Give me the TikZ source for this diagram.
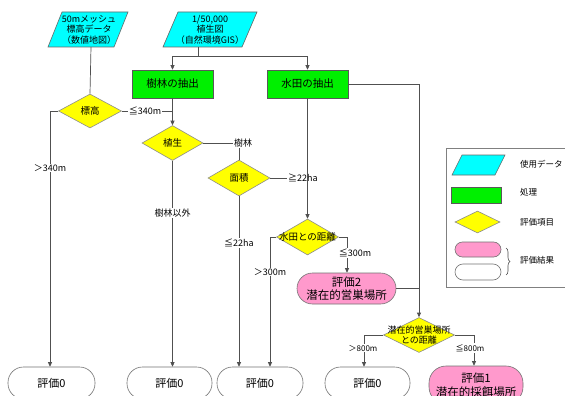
\documentclass[tikz,border=0pt]{standalone}
\usepackage{fontspec}
\setmainfont{Noto Sans CJK JP}
\usetikzlibrary{shapes.geometric,arrows.meta,calc,decorations.pathreplacing}
\definecolor{lineg}{RGB}{80,80,80}
\definecolor{datacyan}{RGB}{0,255,255}
\definecolor{procgreen}{RGB}{0,240,0}
\definecolor{diayellow}{RGB}{255,255,0}
\definecolor{respink}{RGB}{255,153,204}
\tikzset{
  conn/.style={draw=lineg, line width=0.7pt},
  arr/.style={conn, -{Triangle[length=4.5pt,width=4pt]}},
  datashape/.style={draw=black!60, fill=datacyan, line width=0.6pt},
  datatext/.style={align=center, font=\fontsize{9}{10.5}\selectfont, inner sep=0},
  proc/.style={draw=black!65, fill=procgreen, line width=0.6pt, minimum width=81, minimum height=28, inner sep=0, font=\fontsize{10.5}{12}\selectfont},
  dia/.style={diamond, draw=black!45, fill=diayellow, line width=0.6pt, inner sep=0},
  diatext/.style={align=center, font=\fontsize{9.5}{10.5}\selectfont, inner sep=0},
  res/.style={draw=black!55, line width=0.6pt, rounded corners=15.5pt, minimum height=32, inner sep=0, align=center, font=\fontsize{11}{13.5}\selectfont},
  lab/.style={fill=white, inner sep=1pt, font=\fontsize{9}{10}\selectfont},
  legtext/.style={anchor=west, inner sep=0, font=\fontsize{8.5}{10}\selectfont}
}
\begin{document}
\begin{tikzpicture}[x=1pt,y=-1pt]
\useasboundingbox (0,0) rectangle (565,396);
\clip (0,0) rectangle (565,396);
\fill[white] (0,0) rectangle (565,396);

% data parallelograms
\draw[datashape] (48,47) -- (114,47) -- (128,12) -- (62,12) -- cycle;
\node[datatext] (p1) at (89,29.5) {50mメッシュ\\標高データ\\（数値地図）};
\coordinate (p1b) at (91,47);
\draw[datashape] (163,47) -- (242,47) -- (257,12) -- (178,12) -- cycle;
\node[datatext] (p2) at (210,29.5) {1/50,000\\植生図\\（自然環境GIS）};
\coordinate (p2b) at (198,47);

% process boxes
\node[proc] (g1) at (172.5,84) {樹林の抽出};
\node[proc] (g2) at (307.5,84) {水田の抽出};

% diamonds
\node[dia, minimum width=63, minimum height=34] (d1) at (90,111) {};
\node[diatext] (d1t) at (d1) {標高};
\node[dia, minimum width=61, minimum height=35] (d2) at (172.5,143) {};
\node[diatext] (d2t) at (d2) {植生};
\node[dia, minimum width=62, minimum height=36] (d3) at (239,178) {};
\node[diatext] (d3t) at (d3) {面積};
\node[dia, minimum width=62, minimum height=36] (d4) at (307.5,237) {};
\node[diatext] (d4t) at (d4) {水田との距離};
\node[dia, minimum width=71, minimum height=35] (d5) at (419,335) {};
\node[diatext, font=\fontsize{9}{10.5}\selectfont] (d5t) at (d5) {潜在的営巣場所\\との距離};

% results
\node[res, minimum width=87] (r1) at (51.5,383) {評価0};
\node[res, minimum width=85] (r2) at (169.5,383) {評価0};
\node[res, minimum width=86] (r3) at (260,383) {評価0};
\node[res, minimum width=99, minimum height=31, fill=respink, font=\fontsize{11.5}{13.5}\selectfont] (r4) at (346.5,288.5) {評価2\\潜在的営巣場所};
\node[res, minimum width=85] (r5) at (367.5,383) {評価0};
\node[res, minimum width=94, minimum height=38, rounded corners=17pt, fill=respink, font=\fontsize{11.5}{13.5}\selectfont] (r6) at (476,385) {評価1\\潜在的採餌場所};

% connectors
\coordinate (j0) at (198,56);
\draw[conn] (p1b) -- (d1.north);
\draw[conn] (p2b) -- (j0);
\draw[arr] (j0) -| (g1.north);
\draw[arr] (j0) -| (g2.north);

\coordinate (c1) at (50,111);
\draw[arr] (d1.west) -- (c1) -- (c1 |- r1.north);
\node[lab] (l1) at (50,168) {＞340m};
\draw[conn] (d1.east) -- (g1.south |- d1.east);
\node[lab] (l2) at (145,111) {≦340m};
\draw[arr] (g1.south) -- (d2.north);

\coordinate (c2) at (239,143);
\draw[conn] (d2.east) -- (c2) -- (d3.north);
\node[lab] (l3) at (243,143) {樹林};
\draw[arr] (d2.south) -- (d2.south |- r2.north);
\node[lab] (l4) at (172.5,213) {樹林以外};

\draw[arr] (d3.south) -- (d3.south |- r3.north);
\node[lab] (l5) at (239,243) {≦22ha};
\draw[conn] (d3.east) -- (g2.south |- d3.east);
\node[lab] (l6) at (303,178) {≧22ha};
\draw[arr] (g2.south) -- (d4.north);

\coordinate (c3) at (270,237);
\draw[arr] (d4.west) -- (c3) -- (c3 |- r3.north);
\node[lab] (l7) at (270,272) {＞300m};
\coordinate (c4) at (347,237);
\draw[arr] (d4.east) -- (c4) -- (c4 |- r4.north);
\node[lab] (l8) at (355,253) {≦300m};

\coordinate (c5) at (419,84);
\draw[arr] (g2.east) -- (c5) -- (d5.north);
\draw[conn] (r4.east) -- (r4.east -| d5.north);

\coordinate (c6) at (364,335);
\draw[arr] (d5.west) -- (c6) -- (c6 |- r5.north);
\node[lab, font=\fontsize{8}{9}\selectfont] (l9) at (363,348) {＞800m};
\coordinate (c7) at (474,335);
\draw[arr] (d5.east) -- (c7) -- (c7 |- r6.north);
\node[lab, font=\fontsize{8}{9}\selectfont] (l10) at (470,348) {≦800m};

% legend
\draw[draw=black!50, line width=0.7pt] (446,148) rectangle (610,287);
\draw[datashape] (452,175) -- (495,175) -- (505,155) -- (462,155) -- cycle;
\node[legtext] (lt1) at (520,164) {使用データ};
\node[draw=black!65, fill=procgreen, line width=0.6pt, minimum width=50, minimum height=16, inner sep=0] (lg2) at (476,195) {};
\node[legtext] (lt2) at (520,192) {処理};
\node[dia, minimum width=45, minimum height=22] (lg3) at (477.5,222) {};
\node[legtext] (lt3) at (520,222) {評価項目};
\node[draw=black!55, fill=respink, line width=0.6pt, rounded corners=7.5pt, minimum width=46, minimum height=15, inner sep=0] (lg4) at (478,249.5) {};
\node[draw=black!55, line width=0.6pt, rounded corners=8pt, minimum width=46, minimum height=16, inner sep=0] (lg5) at (478,272) {};
\draw[draw=black!70, line width=0.6pt, decorate, decoration={brace, amplitude=4pt}] (506,248) -- (506,275);
\node[legtext] (lt4) at (520,260) {評価結果};
\end{tikzpicture}
\end{document}
